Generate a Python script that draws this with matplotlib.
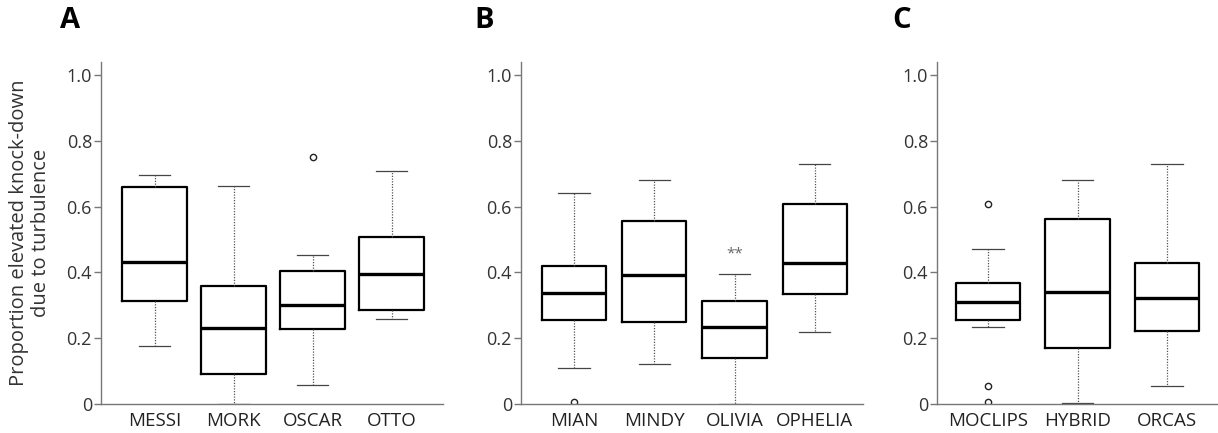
import matplotlib
matplotlib.use("Agg")
import matplotlib.pyplot as plt

plt.rcParams['font.family'] = ['Open Sans', 'DejaVu Sans']

# ---- data ----
cats_a = ["MESSI", "MORK", "OSCAR", "OTTO"]
whislo_a = [0.176, 0.0, 0.057, 0.26]
q1_a = [0.313, 0.09, 0.227, 0.287]
med_a = [0.432, 0.232, 0.301, 0.394]
q3_a = [0.659, 0.36, 0.404, 0.509]
whishi_a = [0.696, 0.662, 0.454, 0.71]
fliers_a = [[], [], [0.75], []]

cats_b = ["MIAN", "MINDY", "OLIVIA", "OPHELIA"]
whislo_b = [0.108, 0.122, 0.0, 0.219]
q1_b = [0.256, 0.248, 0.139, 0.336]
med_b = [0.338, 0.392, 0.234, 0.429]
q3_b = [0.421, 0.555, 0.313, 0.607]
whishi_b = [0.643, 0.68, 0.396, 0.73]
fliers_b = [[0.005], [], [], []]

cats_c = ["MOCLIPS", "HYBRID", "ORCAS"]
whislo_c = [0.233, 0.003, 0.055]
q1_c = [0.255, 0.17, 0.221]
med_c = [0.311, 0.342, 0.323]
q3_c = [0.367, 0.562, 0.43]
whishi_c = [0.47, 0.68, 0.73]
fliers_c = [[0.608, 0.055, 0.007], [], []]

yticks = [0, 0.2, 0.4, 0.6, 0.8, 1.0]
ytick_labels = ["0", "0.2", "0.4", "0.6", "0.8", "1.0"]
panel_letters = ["A", "B", "C"]
signif_text = "**"
signif_y = 0.457
signif_idx = 2
ylabel = "Proportion elevated knock-down\ndue to turbulence"

W, H = 1218, 433
fig = plt.figure(figsize=(W / 100, H / 100), dpi=100)

def box_axes(rect, cats, wlo, q1, med, q3, whi, fl, xlim, bw, cw):
    ax = fig.add_axes(rect)
    stats = []
    for i in range(len(cats)):
        stats.append(dict(whislo=wlo[i], q1=q1[i], med=med[i], q3=q3[i],
                          whishi=whi[i], fliers=fl[i], label=cats[i]))
    pos = list(range(1, len(cats) + 1))
    ax.bxp(stats, positions=pos, widths=bw, capwidths=cw,
           boxprops=dict(color='black', linewidth=1.6),
           medianprops=dict(color='black', linewidth=2.4),
           whiskerprops=dict(color='#555555', linewidth=0.9, linestyle=(0, (1, 1.2))),
           capprops=dict(color='#444444', linewidth=0.9),
           flierprops=dict(marker='o', markerfacecolor='white', markeredgecolor='#222222',
                           markersize=4.5, markeredgewidth=1.0))
    ax.set_xlim(*xlim)
    ax.set_ylim(0, 1.04)
    ax.set_yticks(yticks)
    ax.set_yticklabels(ytick_labels)
    ax.set_xticks(pos)
    ax.set_xticklabels(cats)
    for s in ['top', 'right']:
        ax.spines[s].set_visible(False)
    for s in ['left', 'bottom']:
        ax.spines[s].set_color('#777777')
        ax.spines[s].set_linewidth(1.0)
    ax.tick_params(axis='y', length=5, width=1.0, color='#777777', labelsize=13,
                   labelcolor='#333333', pad=1.5)
    ax.tick_params(axis='x', length=0, labelsize=13.5, labelcolor='#222222', pad=6)
    return ax

bottom = 1 - 404 / H
height = (404 - 62) / H
ax_a = box_axes([101 / W, bottom, 342 / W, height], cats_a, whislo_a, q1_a, med_a, q3_a,
                whishi_a, fliers_a, (0.32, 4.65), 0.82, 0.39)
ax_b = box_axes([521 / W, bottom, 342 / W, height], cats_b, whislo_b, q1_b, med_b, q3_b,
                whishi_b, fliers_b, (0.34, 4.6), 0.80, 0.39)
ax_c = box_axes([937 / W, bottom, 281 / W, height], cats_c, whislo_c, q1_c, med_c, q3_c,
                whishi_c, fliers_c, (0.43, 3.57), 0.72, 0.35)

ax_b.text(signif_idx + 1, signif_y, signif_text, ha='center', va='center',
          fontsize=11, color='#666666')

ax_a.set_ylabel(ylabel, fontsize=14.5, color='#333333', labelpad=11, linespacing=1.15)

for x, letter in zip([60, 474, 892], panel_letters):
    fig.text(x / W, 1 - 20 / H, letter, fontsize=21, fontweight='bold', ha='left', va='center')

fig.savefig("out.png", dpi=100)
